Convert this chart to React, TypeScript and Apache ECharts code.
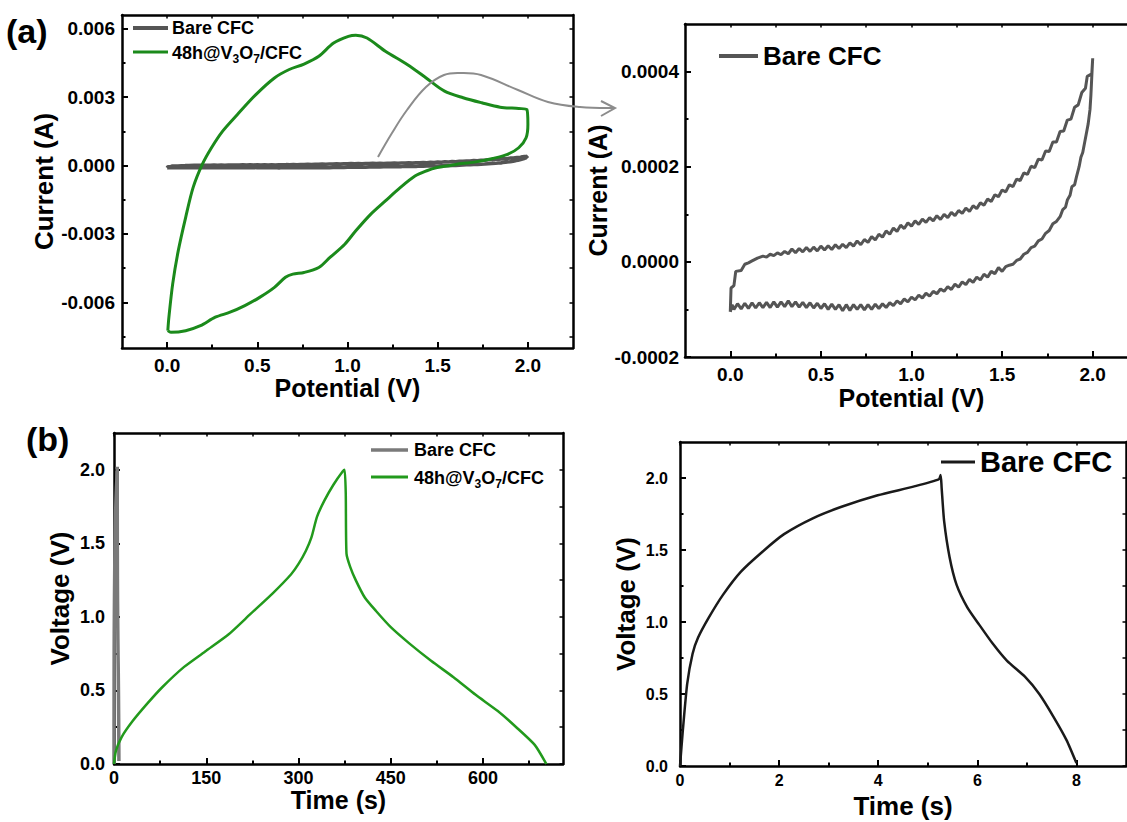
import React, { useEffect, useRef } from "react";
import * as echarts from "echarts";

// ---------- DATA ----------
// (a) CV of 48h@V3O7/CFC : potential (V) and current (mA)
const cvGreenV = [0.004, 0.01, 0.031, 0.062, 0.103, 0.144, 0.195, 0.246, 0.308, 0.39, 0.492, 0.595, 0.677, 0.759, 0.841, 0.923, 1.005, 1.046, 1.108, 1.21, 1.333, 1.436, 1.538, 1.641, 1.744, 1.846, 1.949, 1.994, 2.0, 1.99, 1.949, 1.887, 1.805, 1.703, 1.6, 1.497, 1.436, 1.374, 1.292, 1.21, 1.128, 1.046, 0.985, 0.903, 0.841, 0.759, 0.697, 0.656, 0.595, 0.513, 0.431, 0.349, 0.267, 0.185, 0.103, 0.021, 0.004];
const cvGreenI = [-7.24, -6.65, -5.19, -3.73, -2.27, -0.97, 0.05, 0.78, 1.51, 2.24, 3.11, 3.84, 4.21, 4.45, 4.79, 5.37, 5.66, 5.71, 5.59, 5.01, 4.42, 3.84, 3.26, 2.97, 2.75, 2.56, 2.5, 2.46, 1.8, 1.22, 0.78, 0.49, 0.31, 0.15, 0.05, -0.09, -0.24, -0.46, -0.97, -1.55, -2.14, -2.86, -3.45, -4.03, -4.47, -4.69, -4.76, -4.9, -5.34, -5.78, -6.14, -6.43, -6.65, -7.02, -7.24, -7.31, -7.24];

// Bare CFC CV : potential (V) and current (1e-4 A), forward then reverse sweep
const cvBareFwdV = [0.0, 0.004, 0.02, 0.03, 0.06, 0.08, 0.1, 0.12, 0.15, 0.18, 0.2, 0.22, 0.24, 0.26, 0.28, 0.3, 0.32, 0.34, 0.36, 0.38, 0.4, 0.42, 0.44, 0.46, 0.48, 0.5, 0.52, 0.54, 0.56, 0.58, 0.6, 0.62, 0.64, 0.66, 0.68, 0.7, 0.72, 0.74, 0.76, 0.78, 0.8, 0.82, 0.84, 0.86, 0.88, 0.9, 0.92, 0.94, 0.96, 0.98, 1.0, 1.02, 1.04, 1.06, 1.08, 1.1, 1.12, 1.14, 1.16, 1.18, 1.2, 1.22, 1.24, 1.26, 1.28, 1.3, 1.32, 1.34, 1.36, 1.38, 1.4, 1.42, 1.44, 1.46, 1.48, 1.5, 1.52, 1.54, 1.56, 1.58, 1.6, 1.62, 1.64, 1.66, 1.68, 1.7, 1.72, 1.74, 1.76, 1.78, 1.8, 1.82, 1.84, 1.86, 1.88, 1.9, 1.92, 1.94, 1.96, 1.97, 1.98, 1.995, 2.0];
const cvBareFwdI = [-1.05, -0.55, -0.5, -0.2, -0.18, -0.05, -0.02, 0.02, 0.08, 0.12, 0.1, 0.16, 0.13, 0.19, 0.15, 0.22, 0.17, 0.27, 0.19, 0.28, 0.21, 0.3, 0.22, 0.31, 0.23, 0.33, 0.25, 0.34, 0.26, 0.36, 0.28, 0.37, 0.3, 0.4, 0.33, 0.44, 0.36, 0.47, 0.41, 0.53, 0.46, 0.58, 0.52, 0.65, 0.58, 0.71, 0.64, 0.77, 0.7, 0.82, 0.75, 0.86, 0.79, 0.9, 0.83, 0.93, 0.86, 0.97, 0.89, 1.0, 0.93, 1.04, 0.97, 1.08, 1.02, 1.13, 1.06, 1.18, 1.12, 1.24, 1.19, 1.32, 1.27, 1.41, 1.37, 1.51, 1.47, 1.62, 1.58, 1.74, 1.71, 1.87, 1.84, 2.01, 1.98, 2.16, 2.14, 2.33, 2.32, 2.52, 2.52, 2.74, 2.75, 2.98, 3.0, 3.25, 3.3, 3.56, 3.65, 3.9, 3.92, 3.95, 4.28];
const cvBareRevV = [2.0, 1.995, 1.99, 1.985, 1.975, 1.965, 1.955, 1.945, 1.935, 1.925, 1.91, 1.9, 1.885, 1.875, 1.86, 1.85, 1.835, 1.82, 1.8, 1.78, 1.76, 1.74, 1.72, 1.7, 1.68, 1.66, 1.64, 1.62, 1.6, 1.58, 1.56, 1.54, 1.52, 1.5, 1.48, 1.46, 1.44, 1.42, 1.4, 1.38, 1.36, 1.34, 1.32, 1.3, 1.28, 1.26, 1.24, 1.22, 1.2, 1.18, 1.16, 1.14, 1.12, 1.1, 1.08, 1.06, 1.04, 1.02, 1.0, 0.98, 0.96, 0.94, 0.92, 0.9, 0.88, 0.86, 0.84, 0.82, 0.8, 0.78, 0.76, 0.74, 0.72, 0.7, 0.68, 0.66, 0.64, 0.62, 0.6, 0.58, 0.56, 0.54, 0.52, 0.5, 0.48, 0.46, 0.44, 0.42, 0.4, 0.38, 0.36, 0.34, 0.32, 0.3, 0.28, 0.26, 0.24, 0.22, 0.2, 0.18, 0.16, 0.14, 0.12, 0.1, 0.08, 0.06, 0.04, 0.02, 0.01, 0.0];
const cvBareRevI = [4.28, 3.9, 3.5, 3.2, 2.9, 2.7, 2.5, 2.3, 2.2, 2.0, 1.78, 1.62, 1.58, 1.4, 1.3, 1.15, 1.1, 0.95, 0.85, 0.8, 0.66, 0.6, 0.48, 0.44, 0.33, 0.3, 0.2, 0.16, 0.06, 0.03, -0.05, -0.07, -0.1, -0.2, -0.12, -0.25, -0.2, -0.32, -0.26, -0.38, -0.32, -0.43, -0.37, -0.48, -0.42, -0.53, -0.47, -0.58, -0.52, -0.62, -0.57, -0.67, -0.62, -0.72, -0.66, -0.76, -0.7, -0.8, -0.74, -0.84, -0.78, -0.88, -0.82, -0.92, -0.86, -0.96, -0.88, -0.98, -0.89, -1.0, -0.9, -1.01, -0.9, -1.0, -0.9, -1.02, -0.9, -1.03, -0.9, -1.0, -0.89, -1.0, -0.88, -0.98, -0.87, -0.97, -0.86, -0.96, -0.85, -0.95, -0.84, -0.94, -0.82, -0.94, -0.84, -0.95, -0.84, -0.96, -0.85, -0.96, -0.86, -0.97, -0.86, -0.98, -0.87, -0.99, -0.88, -1.0, -0.9, -1.05];

// (b) GCD of 48h@V3O7/CFC : time (s) and voltage (V)
const gcdGreenT = [0, 3, 12, 30, 54, 78, 114, 150, 186, 222, 258, 288, 300, 312, 321, 330, 342, 357, 372, 375, 376.8, 378, 384, 393, 408, 426, 450, 480, 516, 552, 588, 624, 654, 684, 703];
const gcdGreenU = [0, 0.087, 0.18, 0.29, 0.41, 0.52, 0.66, 0.77, 0.88, 1.02, 1.16, 1.29, 1.36, 1.45, 1.54, 1.68, 1.79, 1.9, 1.99, 2.0, 1.84, 1.43, 1.34, 1.25, 1.13, 1.04, 0.93, 0.82, 0.7, 0.59, 0.47, 0.36, 0.25, 0.13, 0.0];

// Bare CFC GCD : time (s) and voltage (V)
const gcdBareT = [0, 0.058, 0.145, 0.254, 0.363, 0.58, 0.87, 1.23, 1.67, 2.1, 2.68, 3.26, 3.99, 4.71, 5.22, 5.26, 5.28, 5.33, 5.44, 5.58, 5.8, 6.02, 6.31, 6.6, 6.96, 7.25, 7.54, 7.8, 8.0];
const gcdBareU = [0, 0.25, 0.57, 0.78, 0.89, 1.03, 1.19, 1.35, 1.49, 1.61, 1.72, 1.8, 1.88, 1.94, 1.99, 2.02, 1.93, 1.7, 1.45, 1.26, 1.1, 0.99, 0.85, 0.73, 0.62, 0.5, 0.34, 0.18, 0.02];

// tick values
const potTicks = [0, 0.5, 1.0, 1.5, 2.0];
const potMinor = [0.25, 0.75, 1.25, 1.75];
const cvBigTicks = [-0.006, -0.003, 0, 0.003, 0.006];
const cvBigMinor = [-0.0075, -0.0045, -0.0015, 0.0015, 0.0045];
const cvSmallTicks = [-0.0002, 0, 0.0002, 0.0004];
const cvSmallMinor = [-0.0001, 0.0001, 0.0003];
const timeBigTicks = [0, 150, 300, 450, 600];
const timeBigMinor = [75, 225, 375, 525, 675];
const timeSmallTicks = [0, 2, 4, 6, 8];
const timeSmallMinor = [1, 3, 5, 7];
const voltTicks = [0, 0.5, 1.0, 1.5, 2.0];
const voltMinor = [0.25, 0.75, 1.25, 1.75];

const LEG_BARE = "Bare CFC";
const LEG_GREEN = "48h@V{s|3}O{s|7}/CFC";

// ---------- HELPERS ----------
const FONT = "'Liberation Sans', Arial, Helvetica, sans-serif";
const GREEN = "#1b8a1b";

type AxisCfg = {
  min: number; max: number; major: number[]; minor: number[];
  fmt: (v: number) => string; name: string; nameGap: number;
  labelSize: number; labelMargin: number; nameSize: number;
};

function axisSet(dim: "x" | "y", gi: number, c: AxisCfg): any[] {
  const mainPos = dim === "x" ? "bottom" : "left";
  const oppPos = dim === "x" ? "top" : "right";
  const base = { type: "value", gridIndex: gi, min: c.min, max: c.max, splitLine: { show: false } };
  const line = { color: "#000", width: 2.5 };
  return [
    {
      ...base, position: mainPos, name: c.name, nameLocation: "middle", nameGap: c.nameGap,
      nameTextStyle: { fontSize: c.nameSize, fontWeight: "bold", color: "#000", fontFamily: FONT },
      axisLine: { show: true, onZero: false, lineStyle: line },
      axisTick: { show: true, inside: true, length: 6, lineStyle: { color: "#000", width: 2 }, customValues: c.major },
      axisLabel: { show: true, customValues: c.major, formatter: c.fmt, margin: c.labelMargin, fontSize: c.labelSize, fontWeight: "bold", color: "#000", fontFamily: FONT },
    },
    {
      ...base, position: mainPos,
      axisLine: { show: false, onZero: false },
      axisTick: { show: true, inside: true, length: 3.5, lineStyle: { color: "#000", width: 2 }, customValues: c.minor },
      axisLabel: { show: false },
    },
    {
      ...base, position: oppPos,
      axisLine: { show: true, onZero: false, lineStyle: line },
      axisTick: { show: true, inside: true, length: 3.5, lineStyle: { color: "#000", width: 1.5 }, customValues: [...c.major, ...c.minor] },
      axisLabel: { show: false },
    },
  ];
}

const zip = (a: number[], b: number[], s = 1) => a.map((v, i) => [v, b[i] * s]);

function legendLine(x1: number, x2: number, y: number, color: string, w: number) {
  return { type: "line", shape: { x1, y1: y, x2, y2: y }, style: { stroke: color, lineWidth: w }, z: 10 };
}
function legendText(x: number, y: number, text: string, size: number) {
  return {
    type: "text", x, y, z: 10,
    style: {
      text, fill: "#000", fontSize: size, fontWeight: "bold", fontFamily: FONT,
      align: "left", verticalAlign: "middle", lineHeight: Math.round(size * 1.3),
      rich: { s: { fontSize: Math.round(size * 0.65), lineHeight: Math.round(size * 0.65), verticalAlign: "bottom", fontWeight: "bold", fontFamily: FONT, fill: "#000" } },
    },
  };
}

export default function App() {
  const ref = useRef<HTMLDivElement>(null);
  useEffect(() => {
    if (!ref.current) return;
    const chart = echarts.init(ref.current, undefined, { renderer: "svg" });

    const f1 = (v: number) => v.toFixed(1);
    const f3 = (v: number) => v.toFixed(3);
    const f4 = (v: number) => v.toFixed(4);
    const f0 = (v: number) => String(Math.round(v));

    const xAxes = [
      ...axisSet("x", 0, { min: -0.25, max: 2.25, major: potTicks, minor: potMinor, fmt: f1, name: "Potential (V)", nameGap: 27, labelSize: 19, labelMargin: 8, nameSize: 25 }),
      ...axisSet("x", 1, { min: -0.25, max: 2.25, major: potTicks, minor: potMinor, fmt: f1, name: "Potential (V)", nameGap: 28, labelSize: 19, labelMargin: 8, nameSize: 25 }),
      ...axisSet("x", 2, { min: 0, max: 730, major: timeBigTicks, minor: timeBigMinor, fmt: f0, name: "Time (s)", nameGap: 23, labelSize: 18, labelMargin: 5, nameSize: 25 }),
      ...axisSet("x", 3, { min: 0, max: 9, major: timeSmallTicks, minor: timeSmallMinor, fmt: f0, name: "Time (s)", nameGap: 27, labelSize: 16, labelMargin: 6, nameSize: 26 }),
    ];
    const yAxes = [
      ...axisSet("y", 0, { min: -0.008, max: 0.0066, major: cvBigTicks, minor: cvBigMinor, fmt: f3, name: "Current (A)", nameGap: 64, labelSize: 19, labelMargin: 7, nameSize: 26 }),
      ...axisSet("y", 1, { min: -0.0002, max: 0.0005, major: cvSmallTicks, minor: cvSmallMinor, fmt: f4, name: "Current (A)", nameGap: 75, labelSize: 19, labelMargin: 6, nameSize: 25 }),
      ...axisSet("y", 2, { min: 0, max: 2.25, major: voltTicks, minor: voltMinor, fmt: f1, name: "Voltage (V)", nameGap: 41, labelSize: 18, labelMargin: 9, nameSize: 26 }),
      ...axisSet("y", 3, { min: 0, max: 2.25, major: voltTicks, minor: voltMinor, fmt: f1, name: "Voltage (V)", nameGap: 41, labelSize: 16, labelMargin: 12, nameSize: 26 }),
    ];

    const bareCv = [...zip(cvBareFwdV, cvBareFwdI, 1e-4), ...zip(cvBareRevV, cvBareRevI, 1e-4)];

    const lineSeries = (gi: number, data: number[][], color: string, width: number, smooth: number | boolean = false) => ({
      type: "line", xAxisIndex: gi * 3, yAxisIndex: gi * 3, data, showSymbol: false, symbol: "none",
      smooth, lineStyle: { color, width }, itemStyle: { color }, z: 3, silent: true,
    });

    const option: any = {
      animation: false,
      backgroundColor: "#fff",
      grid: [
        { left: 122, top: 15, width: 451, height: 333, outerBoundsMode: "none" },
        { left: 685, top: 24, width: 453, height: 333, outerBoundsMode: "none" },
        { left: 114, top: 433, width: 449, height: 331, outerBoundsMode: "none" },
        { left: 680, top: 442, width: 446, height: 324, outerBoundsMode: "none" },
      ],
      xAxis: xAxes,
      yAxis: yAxes,
      series: [
        lineSeries(0, bareCv, "#555555", 3.5),
        lineSeries(0, zip(cvGreenV, cvGreenI, 1e-3), GREEN, 3, 0.3),
        lineSeries(1, bareCv, "#555555", 3),
        lineSeries(2, zip(gcdBareT, gcdBareU), "#7a7a7a", 3.5),
        lineSeries(2, zip(gcdGreenT, gcdGreenU), "#229a1c", 2.5, 0.2),
        lineSeries(3, zip(gcdBareT, gcdBareU), "#1a1a1a", 2.5, 0.2),
      ],
      graphic: [
        // panel labels
        { type: "text", x: 6, y: 31, style: { text: "(a)", fontSize: 34, fontWeight: "bold", fontFamily: FONT, fill: "#000", verticalAlign: "middle" } },
        { type: "text", x: 26, y: 439, style: { text: "(b)", fontSize: 34, fontWeight: "bold", fontFamily: FONT, fill: "#000", verticalAlign: "middle" } },
        // legend (a) left
        legendLine(133, 168, 28, "#555555", 4),
        legendText(172, 28, LEG_BARE, 18),
        legendLine(133, 168, 52, GREEN, 3),
        legendText(172, 53, LEG_GREEN, 18),
        // legend (a) right
        legendLine(719, 758, 56, "#555555", 4),
        legendText(763, 56, LEG_BARE, 26),
        // legend (b) left
        legendLine(371, 408, 450, "#7a7a7a", 3.5),
        legendText(414, 450, LEG_BARE, 18),
        legendLine(371, 408, 477, "#229a1c", 3),
        legendText(414, 478, LEG_GREEN, 18),
        // legend (b) right
        legendLine(941, 975, 462, "#1a1a1a", 3),
        legendText(980, 462, LEG_BARE, 29),
        // zoom arrow
        {
          type: "polyline", z: 9,
          shape: { points: [[378, 157], [392, 133], [407, 110], [426, 87], [444, 75], [461, 73], [481, 75], [518, 90], [548, 102], [580, 107], [614, 108]], smooth: 0.4 },
          style: { stroke: "#8c8c8c", lineWidth: 2, fill: "none" },
        },
        {
          type: "polyline", z: 9,
          shape: { points: [[601, 101], [615, 108], [601, 116]] },
          style: { stroke: "#8c8c8c", lineWidth: 2, fill: "none" },
        },
      ],
    };
    chart.setOption(option);
    return () => chart.dispose();
  }, []);
  return <div ref={ref} style={{ position: "absolute", left: 0, top: 0, width: 1127, height: 822, background: "#fff" }} />;
}
